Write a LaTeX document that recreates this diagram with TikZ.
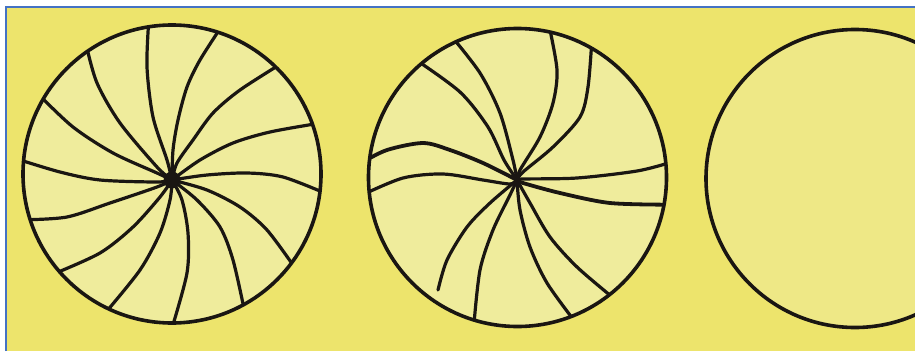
\documentclass[tikz,border=0pt]{standalone}
\definecolor{paper}{RGB}{237,228,108}
\definecolor{paperlight}{RGB}{239,236,156}
\definecolor{ink}{RGB}{26,22,18}
\definecolor{frame}{RGB}{68,114,196}
\tikzset{
  rim/.style={draw=ink, line width=3.6pt},
  spoke/.style={draw=ink, line width=3.2pt, line cap=round, line join=round},
  thickspoke/.style={spoke, line width=3.8pt},
}
\begin{document}
\begin{tikzpicture}[x=1pt,y=-1pt]
\useasboundingbox (0,0) rectangle (915,351);
% paper and frame
\fill[white] (0,0) rectangle (915,351);
\fill[paper] (5,6) rectangle (915,351);
\draw[frame, line width=2pt] (5.5,351) -- (5.5,6.5) -- (915,6.5);

\coordinate (c1) at (172,174);
\coordinate (h1) at (172,180);
\coordinate (c2) at (517.5,177.5);
\coordinate (h2) at (517,180);
\coordinate (c3) at (855,178.5);

\fill[paperlight] (c1) circle (149);
\fill[paperlight] (c2) circle (149);
\fill[paperlight!55!paper] (c3) circle (149);

% ---------- circle 1: pinwheel with dark hub ----------
\begin{scope}
\clip (c1) circle (149);
\draw[spoke] plot[smooth] coordinates {(148.8,19.8) (147,67) (153,117) (167,160) (172,180)};
\draw[spoke] plot[smooth] coordinates {(221.7,26.2) (200,60) (187,87) (178,120) (173,150) (172,180)};
\draw[spoke] plot[smooth] coordinates {(281.6,63.4) (240,90) (213,113) (193,140) (177,163) (172,180)};
\draw[spoke] plot[smooth] coordinates {(318.8,123.3) (270,132) (233,143) (200,160) (172,180)};
\draw[spoke] plot[smooth] coordinates {(325.6,193.4) (283,177) (247,173) (207,175) (172,180)};
\draw[spoke] plot[smooth] coordinates {(294.8,267.6) (267,230) (240,207) (207,190) (172,180)};
\draw[spoke] plot[smooth] coordinates {(244.3,310) (233,260) (220,227) (197,200) (172,180)};
\draw[spoke] plot[smooth] coordinates {(172,328) (187,273) (188,233) (182,200) (172,180)};
\draw[spoke] plot[smooth] coordinates {(105.3,312.9) (140,270) (160,233) (170,200) (172,180)};
\draw[spoke] plot[smooth] coordinates {(54.2,273.7) (100,253) (133,227) (160,197) (172,180)};
\draw[spoke] plot[smooth] coordinates {(24.2,219.8) (67,217) (110,203) (157,187) (172,180)};
\draw[spoke] plot[smooth] coordinates {(17.6,159.2) (60,172) (100,180) (157,182) (172,180)};
\draw[spoke] plot[smooth] coordinates {(38.5,94.4) (73,127) (113,153) (157,173) (172,180)};
\draw[spoke] plot[smooth] coordinates {(86,44) (97,83) (120,123) (157,167) (172,180)};
\end{scope}
\fill[ink] (h1) circle (8.5);
\draw[rim] (c1) circle (149);

% ---------- circle 2: irregular curves ----------
\begin{scope}
\clip (c2) circle (149);
\draw[spoke] plot[smooth] coordinates {(451.7,36.5) (480,73) (500,113) (513,160) (517,180)};
\draw[spoke] plot[smooth] coordinates {(415.6,59.6) (460,92) (488,127) (504,160) (517,180)};
\draw[spoke] plot[smooth] coordinates {(549,25.3) (557,70) (553,103) (540,137) (520,170) (517,180)};
\draw[spoke] plot[smooth] coordinates {(591.8,41.2) (588,87) (580,117) (553,147) (523,172) (517,180)};
\draw[spoke] plot[smooth] coordinates {(671.3,162.2) (637,171) (577,178) (523,179) (517,180)};
\draw[thickspoke] plot[smooth] coordinates {(669.6,204.7) (610,203) (560,193) (523,183) (517,180)};
\draw[spoke] plot[smooth] coordinates {(613.6,298.2) (577,267) (550,237) (530,203) (517,180)};
\draw[spoke] plot[smooth] coordinates {(574.4,320.9) (547,283) (530,247) (520,210) (517,180)};
\draw[spoke] plot[smooth] coordinates {(473.8,325.9) (480,270) (493,230) (510,195) (517,180)};
\draw[spoke] plot[smooth] coordinates {(438,290) (447,260) (467,227) (490,203) (517,180)};
\draw[thickspoke] plot[smooth] coordinates {(362,162.5) (387,150) (423,143) (450,150) (483,163) (517,180)};
\draw[spoke] plot[smooth] coordinates {(363,194.6) (403,178) (443,174) (483,180) (510,184) (517,180)};
\end{scope}
\draw[rim] (c2) circle (149);

% ---------- circle 3: empty ----------
\draw[rim] (c3) circle (149);
\end{tikzpicture}
\end{document}
